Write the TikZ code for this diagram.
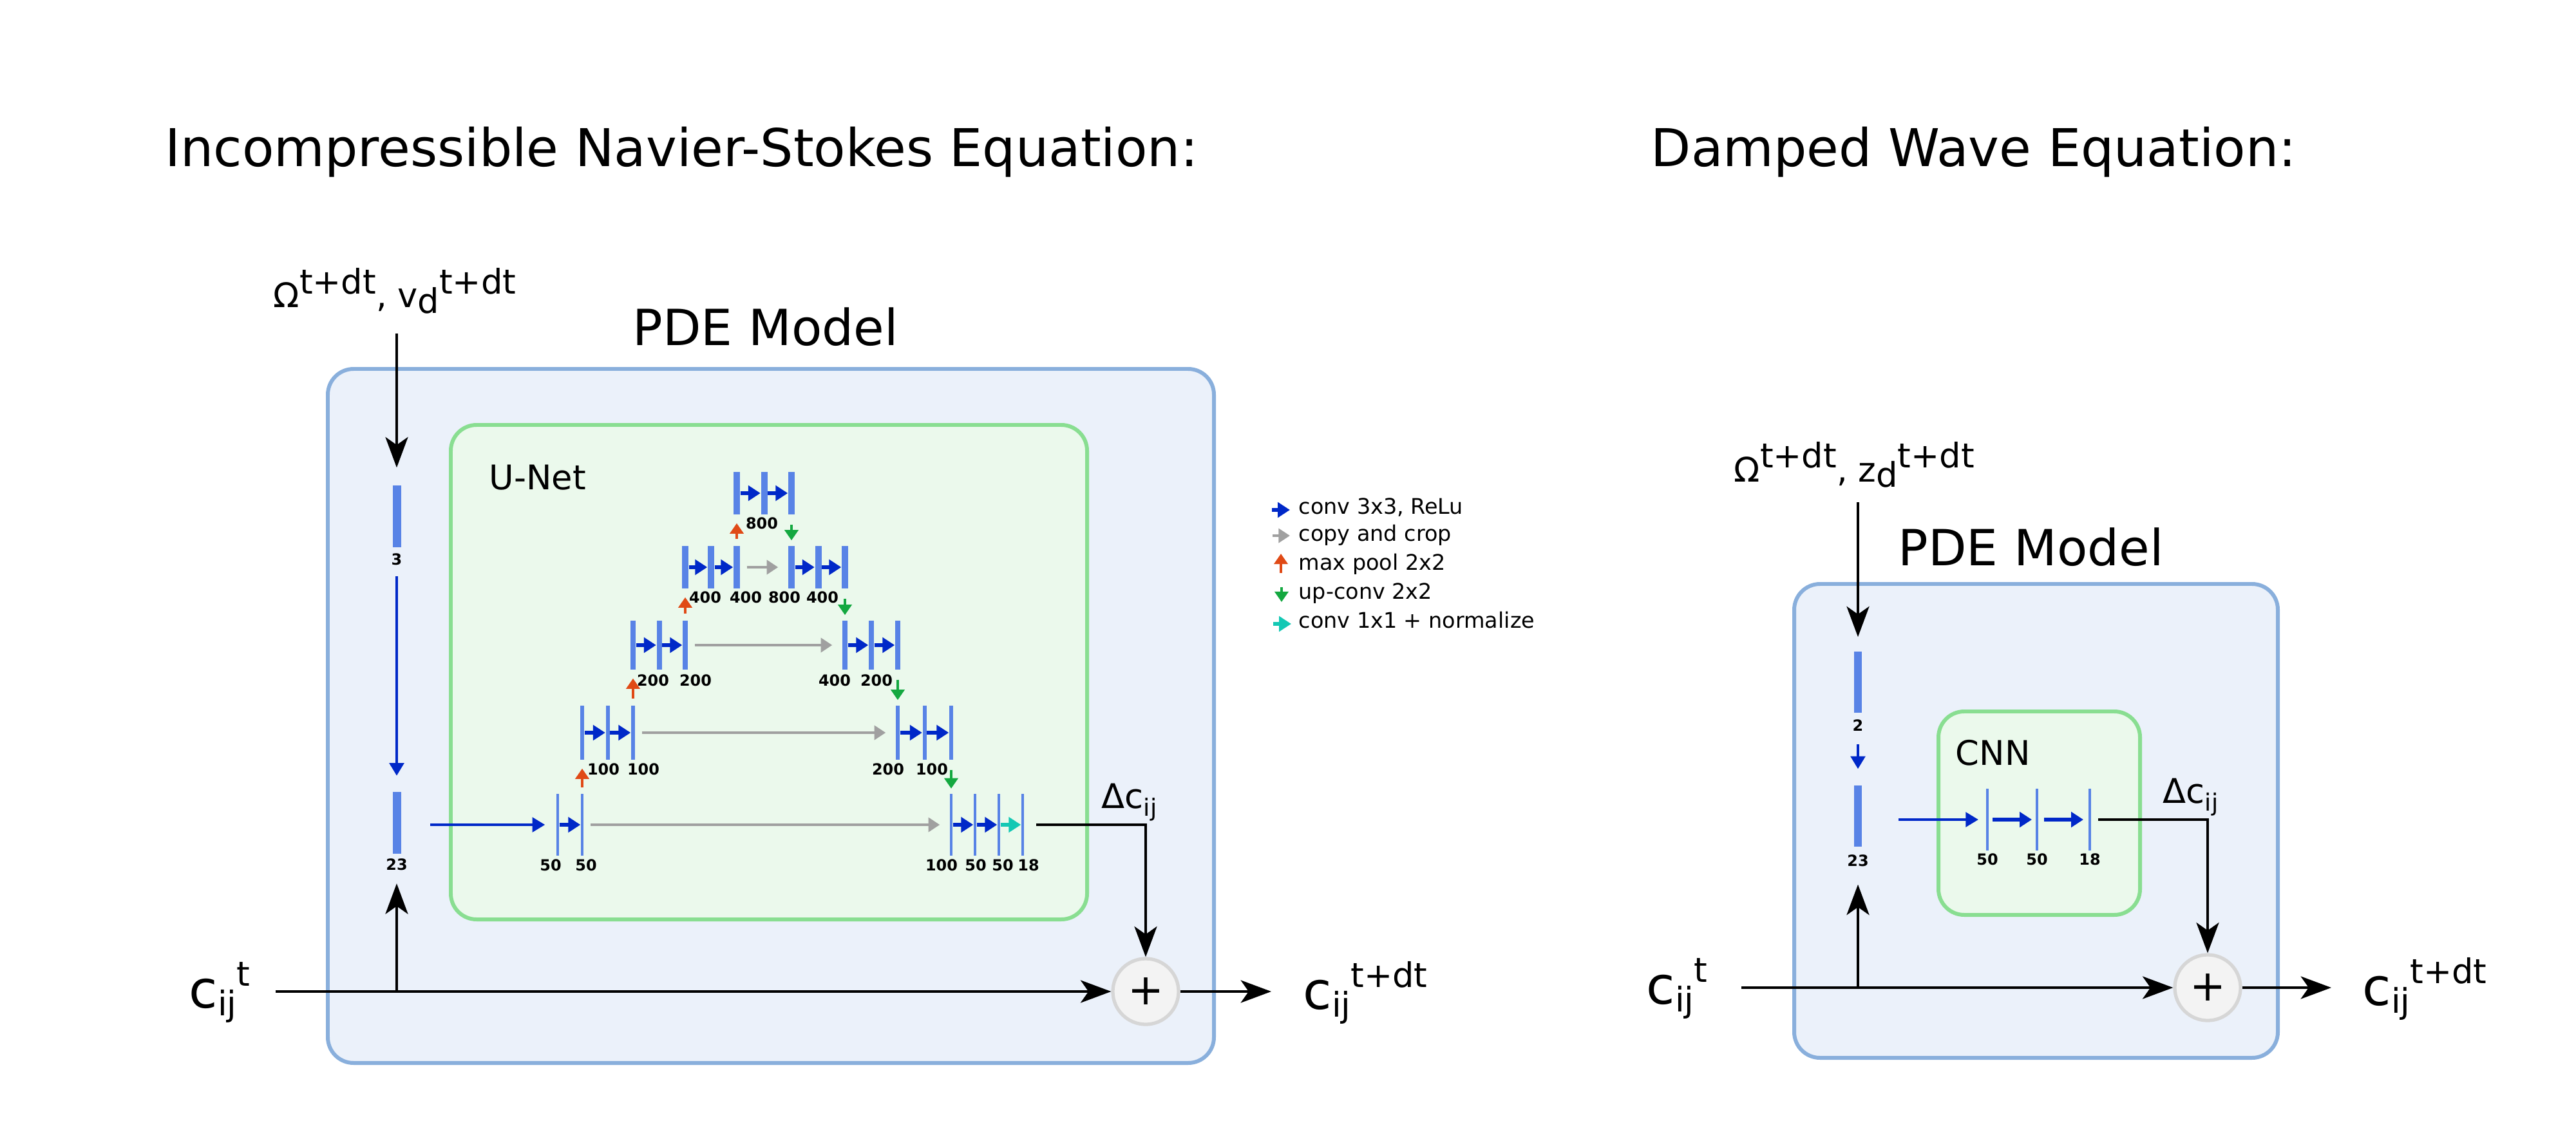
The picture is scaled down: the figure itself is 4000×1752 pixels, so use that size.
\documentclass[tikz,border=0pt]{standalone}
\usepackage{fontspec}
\setmainfont{DejaVu Sans}
\usetikzlibrary{arrows.meta}

\definecolor{barblue}{RGB}{88,131,230}
\definecolor{convblue}{RGB}{0,40,200}
\definecolor{copygray}{RGB}{160,160,160}
\definecolor{poolred}{RGB}{224,74,22}
\definecolor{upgreen}{RGB}{20,168,64}
\definecolor{normcyan}{RGB}{20,200,180}
\definecolor{pdefill}{RGB}{235,241,250}
\definecolor{pdeline}{RGB}{137,175,220}
\definecolor{netfill}{RGB}{235,249,236}
\definecolor{netline}{RGB}{137,222,145}
\definecolor{sumfill}{RGB}{243,243,243}
\definecolor{sumline}{RGB}{214,214,214}

\newcommand{\hisup}[1]{\raisebox{0.41em}{\fontsize{15}{15}\selectfont #1}}
\newcommand{\losub}[1]{\raisebox{-0.16em}{\fontsize{15}{15}\selectfont #1}}
\newcommand{\dsub}[1]{\raisebox{-0.23em}{\fontsize{10.5}{10.5}\selectfont #1}}

\tikzset{
  lyr/.style 2 args={rectangle, fill=barblue, inner sep=0pt, minimum width=#1, minimum height=#2},
  l0/.style={lyr={0.04cm}{0.95cm}},
  l1/.style={lyr={0.06cm}{0.84cm}},
  l2/.style={lyr={0.08cm}{0.76cm}},
  l3/.style={lyr={0.10cm}{0.66cm}},
  num/.style={font=\bfseries\fontsize{6.8}{7}\selectfont, inner sep=0pt},
  txt/.style={anchor=base west, inner sep=0pt},
  big/.style={txt, font=\fontsize{23}{23}\selectfont},
  mid/.style={txt, font=\fontsize{15}{15}\selectfont},
  pdebox/.style={draw=pdeline, fill=pdefill, line width=1.7pt, rounded corners=0.4cm},
  netbox/.style={draw=netline, fill=netfill, line width=1.7pt, rounded corners=0.4cm},
  sumnode/.style={circle, draw=sumline, fill=sumfill, line width=1.5pt, minimum size=1.02cm, inner sep=0pt, font=\fontsize{19}{19}\selectfont},
  flow/.style={line width=0.9pt, -{Stealth[length=13.5pt,width=10pt,inset=3.5pt]}},
  feed/.style={convblue, line width=1.2pt, -{Triangle[length=5.6pt,width=6.4pt]}},
  conv3/.style={convblue, line width=1.7pt, -{Triangle[length=5.4pt,width=6.6pt]}},
  onebyone/.style={normcyan, line width=1.7pt, -{Triangle[length=5.4pt,width=6.6pt]}},
  copycrop/.style={copygray, line width=1.2pt, -{Triangle[length=5pt,width=6.2pt]}, shorten <=0.1cm, shorten >=0.15cm},
  maxpool/.style={poolred, line width=1.1pt, -{Triangle[length=4.6pt,width=6pt]}, shorten <=0.1cm, shorten >=0.13cm},
  upconv/.style={upgreen, line width=1.1pt, -{Triangle[length=4.6pt,width=6pt]}, shorten <=0.15cm, shorten >=0.08cm}
}

\begin{document}
\begin{tikzpicture}[x=0.01cm, y=-0.01cm]
\useasboundingbox (0,0) rectangle (4000,1752);

\node[txt, font=\fontsize{23}{23}\selectfont] (titleL) at (256,259) {Incompressible Navier-Stokes Equation:};
\node[txt, font=\fontsize{23}{23}\selectfont] (titleR) at (2563,259) {Damped Wave Equation:};

% Navier-Stokes
\draw[pdebox] (509,573) rectangle (1885,1651);
\draw[netbox] (700,660) rectangle (1688,1428);
\node[txt, font=\fontsize{22}{22}\selectfont] (pdeL) at (982,537) {PDE Model};
\node[mid] (unet) at (759,760) {U-Net};
\node[mid] (omegaL) at (424,478) {Ω\hisup{t+dt}, v\losub{d}\hisup{t+dt}};

\node[lyr={0.13cm}{0.96cm}] (in3) at (616,802) {};
\node[num] (n3) at (616,869) {3};
\node[lyr={0.13cm}{0.95cm}] (in23L) at (616,1278) {};
\node[num] (n23L) at (616,1343) {23};

\node[l0] (enc0a) at (866,1281) {};
\node[l0] (enc0b) at (904,1281) {};
\node[l0] (dec0a) at (1477,1281) {};
\node[l0] (dec0b) at (1514,1281) {};
\node[l0] (dec0c) at (1551,1281) {};
\node[l0] (dec0d) at (1588,1281) {};
\node[l1] (enc1a) at (904,1138) {};
\node[l1] (enc1b) at (943.5,1138) {};
\node[l1] (enc1c) at (983,1138) {};
\node[l1] (dec1a) at (1394,1138) {};
\node[l1] (dec1b) at (1435.5,1138) {};
\node[l1] (dec1c) at (1477,1138) {};
\node[l2] (enc2a) at (983,1002) {};
\node[l2] (enc2b) at (1023.5,1002) {};
\node[l2] (enc2c) at (1064,1002) {};
\node[l2] (dec2a) at (1312,1002) {};
\node[l2] (dec2b) at (1353,1002) {};
\node[l2] (dec2c) at (1394,1002) {};
\node[l3] (enc3a) at (1064,881) {};
\node[l3] (enc3b) at (1104,881) {};
\node[l3] (enc3c) at (1144,881) {};
\node[l3] (dec3a) at (1229,881) {};
\node[l3] (dec3b) at (1270.5,881) {};
\node[l3] (dec3c) at (1312,881) {};
\node[l3] (mid4a) at (1144,766) {};
\node[l3] (mid4b) at (1186.5,766) {};
\node[l3] (mid4c) at (1229,766) {};

\node[num] at (855,1344) {50};
\node[num] at (910,1344) {50};
\node[num] at (1462,1344) {100};
\node[num] at (1515,1344) {50};
\node[num] at (1557,1344) {50};
\node[num] at (1597,1344) {18};
\node[num] at (937,1195) {100};
\node[num] at (999,1195) {100};
\node[num] at (1379,1195) {200};
\node[num] at (1447,1195) {100};
\node[num] at (1014,1057) {200};
\node[num] at (1080,1057) {200};
\node[num] at (1296,1057) {400};
\node[num] at (1361,1057) {200};
\node[num] at (1095,928) {400};
\node[num] at (1158,928) {400};
\node[num] at (1218,928) {800};
\node[num] at (1277,928) {400};
\node[num] at (1183,813) {800};

\draw[conv3] (enc0a) -- (enc0b);
\draw[conv3] (enc1a) -- (enc1b);
\draw[conv3] (enc1b) -- (enc1c);
\draw[conv3] (enc2a) -- (enc2b);
\draw[conv3] (enc2b) -- (enc2c);
\draw[conv3] (enc3a) -- (enc3b);
\draw[conv3] (enc3b) -- (enc3c);
\draw[conv3] (mid4a) -- (mid4b);
\draw[conv3] (mid4b) -- (mid4c);
\draw[conv3] (dec3a) -- (dec3b);
\draw[conv3] (dec3b) -- (dec3c);
\draw[conv3] (dec2a) -- (dec2b);
\draw[conv3] (dec2b) -- (dec2c);
\draw[conv3] (dec1a) -- (dec1b);
\draw[conv3] (dec1b) -- (dec1c);
\draw[conv3] (dec0a) -- (dec0b);
\draw[conv3] (dec0b) -- (dec0c);
\draw[onebyone] (dec0c) -- (dec0d);

\draw[copycrop] (enc0b) -- (dec0a);
\draw[copycrop] (enc1c) -- (dec1a);
\draw[copycrop] (enc2c) -- (dec2a);
\draw[copycrop] (enc3c) -- (dec3a);

\draw[maxpool] (enc0b.north) -- (enc1a.south);
\draw[maxpool] (enc1c.north) -- (enc2a.south);
\draw[maxpool] (enc2c.north) -- (enc3a.south);
\draw[maxpool] (enc3c.north) -- (mid4a.south);

\draw[upconv] (mid4c.south) -- (dec3a.north);
\draw[upconv] (dec3c.south) -- (dec2a.north);
\draw[upconv] (dec2c.south) -- (dec1a.north);
\draw[upconv] (dec1c.south) -- (dec0a.north);

\coordinate (inL) at (616,518);
\draw[flow, shorten >=0.27cm] (inL) -- (in3.north);
\draw[feed, shorten <=0.44cm, shorten >=0.25cm] (in3.south) -- (in23L.north);
\draw[feed, shorten <=0.45cm, shorten >=0.17cm] (in23L.east |- enc0a.west) -- (enc0a.west);

\node[sumnode] (sumL) at (1779,1540) {+};
\node[mid] (dcL) at (1710,1255) {Δc\dsub{ij}};
\draw[flow, shorten <=0.18cm] (dec0d.east) -| (sumL.north);
\coordinate (cinL) at (428,1540);
\coordinate (tapL) at (616,1540);
\coordinate (coutL) at (1974,1540);
\draw[flow] (cinL) -- (sumL);
\draw[flow, shorten >=0.46cm] (tapL) -- (in23L.south);
\draw[flow] (sumL) -- (coutL);
\node[big] (ctL) at (293,1565) {c\losub{ij}\hisup{t}};
\node[big] (cnextL) at (2023,1567) {c\losub{ij}\hisup{t+dt}};

% legend
\node[txt, font=\fontsize{9.5}{9.5}\selectfont] (lgconv) at (2016,798) {conv 3x3, ReLu};
\node[txt, font=\fontsize{9.5}{9.5}\selectfont] (lgcrop) at (2016,840) {copy and crop};
\node[txt, font=\fontsize{9.5}{9.5}\selectfont] (lgpool) at (2016,885) {max pool 2x2};
\node[txt, font=\fontsize{9.5}{9.5}\selectfont] (lgup) at (2016,930) {up-conv 2x2};
\node[txt, font=\fontsize{9.5}{9.5}\selectfont] (lgnorm) at (2016,975) {conv 1x1 + normalize};
\draw[conv3] ([xshift=-0.41cm,yshift=0.06cm]lgconv.base west) -- ++(28,0);
\draw[copycrop, shorten <=0pt, shorten >=0pt] ([xshift=-0.40cm,yshift=0.08cm]lgcrop.base west) -- ++(27,0);
\draw[maxpool, shorten <=0pt, shorten >=0pt] ([xshift=-0.27cm,yshift=-0.05cm]lgpool.base west) -- ++(0,-30);
\draw[upconv, shorten <=0pt, shorten >=0pt] ([xshift=-0.26cm,yshift=0.18cm]lgup.base west) -- ++(0,23);
\draw[onebyone] ([xshift=-0.39cm,yshift=0.06cm]lgnorm.base west) -- ++(28,0);

% damped wave
\draw[pdebox] (2786,907) rectangle (3537,1643);
\draw[netbox] (3010,1105) rectangle (3323,1421);
\node[txt, font=\fontsize{22}{22}\selectfont] (pdeR) at (2947,878) {PDE Model};
\node[mid] (cnn) at (3036,1188) {CNN};
\node[mid] (omegaR) at (2692,748) {Ω\hisup{t+dt}, z\losub{d}\hisup{t+dt}};

\node[lyr={0.12cm}{0.95cm}] (in2) at (2885,1059.5) {};
\node[num] (n2) at (2885,1127) {2};
\node[lyr={0.12cm}{0.95cm}] (in23R) at (2885,1267.5) {};
\node[num] (n23R) at (2885,1337) {23};

\node[lyr={0.046cm}{0.96cm}] (cnn1) at (3086,1273) {};
\node[lyr={0.046cm}{0.96cm}] (cnn2) at (3163,1273) {};
\node[lyr={0.046cm}{0.96cm}] (cnn3) at (3245,1273) {};
\node[num] at (3086,1335) {50};
\node[num] at (3163,1335) {50};
\node[num] at (3245,1335) {18};

\coordinate (inR) at (2885,780);
\draw[flow, shorten >=0.22cm] (inR) -- (in2.north);
\draw[feed, shorten <=0.48cm, shorten >=0.25cm] (in2.south) -- (in23R.north);
\draw[feed, shorten <=0.56cm, shorten >=0.11cm] (in23R.east |- cnn1.west) -- (cnn1.west);
\draw[conv3, shorten <=0.05cm, shorten >=0.05cm] (cnn1) -- (cnn2);
\draw[conv3, shorten <=0.08cm, shorten >=0.07cm] (cnn2) -- (cnn3);

\node[sumnode] (sumR) at (3428,1534) {+};
\node[mid] (dcR) at (3358,1247) {Δc\dsub{ij}};
\draw[flow, shorten <=0.1cm] (cnn3.east) -| (sumR.north);
\coordinate (cinR) at (2704,1534);
\coordinate (tapR) at (2885,1534);
\coordinate (coutR) at (3620,1534);
\draw[flow] (cinR) -- (sumR);
\draw[flow, shorten >=0.58cm] (tapR) -- (in23R.south);
\draw[flow] (sumR) -- (coutR);
\node[big] (ctR) at (2556,1559) {c\losub{ij}\hisup{t}};
\node[big] (cnextR) at (3668,1561) {c\losub{ij}\hisup{t+dt}};

\end{tikzpicture}
\end{document}
